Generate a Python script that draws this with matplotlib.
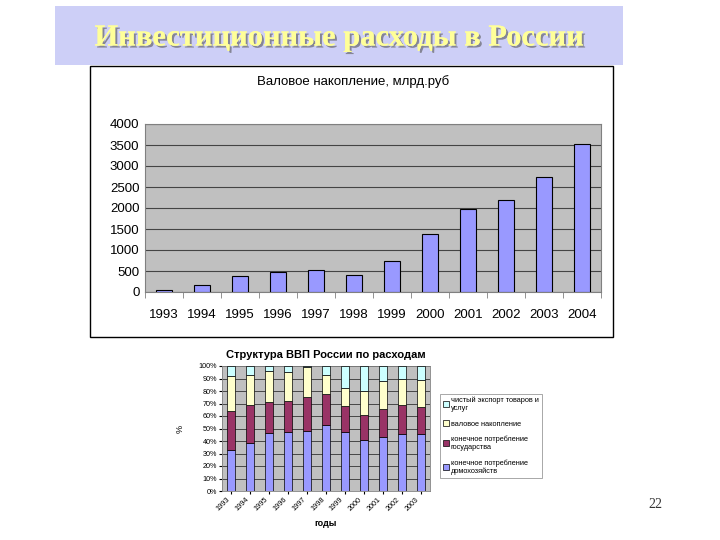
import matplotlib
matplotlib.use('Agg')
import matplotlib.pyplot as plt
import matplotlib.patches as patches
import matplotlib.patheffects as pe
import numpy as np

# gross accumulation, bln rub
years_top = ['1993', '1994', '1995', '1996', '1997', '1998',
             '1999', '2000', '2001', '2002', '2003', '2004']
accum_values = [50, 170, 370, 470, 530, 400, 730, 1380, 1980, 2180, 2730, 3530]

# GDP structure by expenditure, % (cumulative tops)
years_bottom = ['1993', '1994', '1995', '1996', '1997', '1998',
                '1999', '2000', '2001', '2002', '2003']
households = [32.5, 38.7, 46.4, 47.5, 48.3, 52.8, 47.2, 41.0, 43.5, 45.6, 45.6]
government = [31.2, 30.3, 24.6, 24.2, 27.2, 24.5, 20.5, 20.0, 21.8, 22.9, 21.9]
gross_accum = [28.3, 24.0, 25.3, 23.5, 24.0, 15.7, 15.0, 19.0, 22.7, 20.8, 21.0]
net_export = [8.0, 7.0, 3.7, 4.8, 0.5, 7.0, 17.3, 20.0, 12.0, 10.7, 11.5]

labels = ['конечное потребление\nдомохозяйств',
          'конечное потребление\nгосударства',
          'валовое накопление',
          'чистый экспорт товаров и\nуслуг']
colors = ['#9999FF', '#993366', '#FFFFCC', '#CCFFFF']

plt.rcParams['font.family'] = ['Liberation Sans', 'DejaVu Sans']

fig = plt.figure(figsize=(7.2, 5.4), dpi=100)
fig.patch.set_facecolor('white')

# title banner
fig.patches.append(patches.Rectangle((55 / 720, 1 - 65 / 540), 568 / 720, 59 / 540,
                                     transform=fig.transFigure, facecolor='#CDCFF7',
                                     edgecolor='none', zorder=-2))
fig.text(0.47, 1 - 38 / 540, 'Инвестиционные расходы в России', ha='center', va='center',
         fontsize=22, fontweight='bold', color='#FFFF99',
         family=['Liberation Serif', 'DejaVu Serif'],
         path_effects=[pe.withSimplePatchShadow(offset=(1.5, -1.5),
                                                shadow_rgbFace='#555555', alpha=0.6),
                       pe.Normal()])

# frame of the upper chart
fig.patches.append(patches.Rectangle((90 / 720, 1 - 337 / 540), 523 / 720, 271 / 540,
                                     transform=fig.transFigure, facecolor='white',
                                     edgecolor='black', linewidth=1.0, zorder=-1))

# upper chart
ax1 = fig.add_axes([145 / 720, 1 - 292 / 540, 456 / 720, 168 / 540])
ax1.set_facecolor('#C0C0C0')
x1 = np.arange(len(years_top))
ax1.bar(x1, accum_values, width=0.43, color='#9999FF', edgecolor='black',
        linewidth=0.8, zorder=3)
ax1.set_ylim(0, 4000)
ax1.set_xlim(-0.5, len(years_top) - 0.5)
ax1.set_yticks(range(0, 4001, 500))
ax1.yaxis.grid(True, color='#444444', linewidth=0.8)
ax1.set_axisbelow(True)
ax1.set_xticks(x1)
ax1.set_xticklabels(years_top, fontsize=9.5)
ax1.set_xticks(np.arange(-0.5, len(years_top), 1), minor=True)
ax1.tick_params(axis='x', which='major', length=0, pad=12)
ax1.tick_params(axis='x', which='minor', length=4, color='#808080')
ax1.tick_params(axis='y', labelsize=9.5, length=0, pad=4)
for s in ax1.spines.values():
    s.set_color('#808080')
fig.text(0.49, 1 - 82 / 540, 'Валовое накопление, млрд.руб', ha='center', va='center',
         fontsize=9.5)

# lower chart
ax2 = fig.add_axes([222 / 720, 1 - 491 / 540, 208 / 720, 125 / 540])
ax2.set_facecolor('#C0C0C0')
x2 = np.arange(len(years_bottom))
series = [households, government, gross_accum, net_export]
bottom = np.zeros(len(years_bottom))
handles = []
for vals, col, lab in zip(series, colors, labels):
    h = ax2.bar(x2, vals, width=0.42, bottom=bottom, color=col, edgecolor='black',
                linewidth=0.5, label=lab, zorder=3)
    handles.append(h)
    bottom = bottom + np.array(vals)
ax2.set_ylim(0, 100)
ax2.set_xlim(-0.5, len(years_bottom) - 0.5)
ax2.set_yticks(range(0, 101, 10))
ax2.set_yticklabels(['%d%%' % v for v in range(0, 101, 10)], fontsize=5.2)
ax2.yaxis.grid(True, color='#333333', linewidth=0.6)
ax2.set_axisbelow(True)
ax2.set_xticks(x2)
ax2.set_xticklabels(years_bottom, fontsize=5.2, rotation=45, ha='right')
ax2.tick_params(axis='both', length=2, pad=1.5)
for s in ax2.spines.values():
    s.set_color('#808080')
    s.set_linewidth(0.6)
ax2.set_ylabel('%', fontsize=6.5, labelpad=10)
ax2.set_xlabel('годы', fontsize=6.5, fontweight='bold', labelpad=5)
ax2.set_title('Структура ВВП России по расходам', fontsize=8, fontweight='bold', pad=6)

leg = fig.legend(handles[::-1], labels[::-1], loc='upper left',
                 bbox_to_anchor=(436 / 720, 1 - 390 / 540), fontsize=5.3,
                 frameon=True, fancybox=False, edgecolor='#808080',
                 handlelength=0.8, handleheight=0.8, handletextpad=0.3,
                 labelspacing=1.1, borderpad=0.4)
leg.get_frame().set_linewidth(0.6)

fig.text(655 / 720, 1 - 505 / 540, '22', ha='center', va='center', fontsize=10,
         color='#333333', family=['Liberation Serif', 'DejaVu Serif'])

fig.savefig('out.png', dpi=100)
